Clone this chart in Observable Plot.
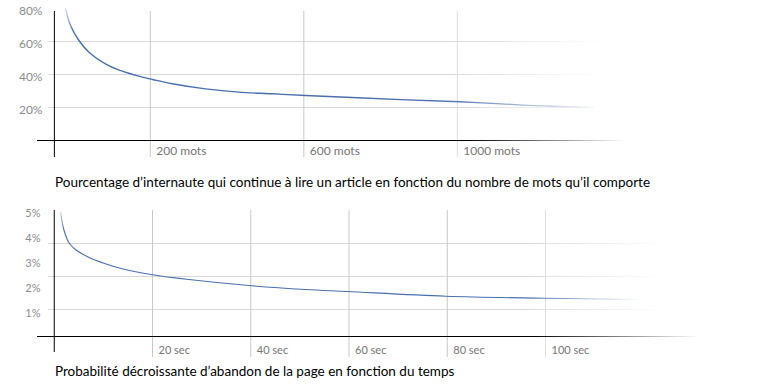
<!DOCTYPE html>
<html><head><meta charset="utf-8">
<script src="https://cdn.jsdelivr.net/npm/d3@7"></script>
<script src="https://cdn.jsdelivr.net/npm/@observablehq/plot@0.6"></script>
<style>
body{margin:0;background:#fff;font-family:Lato, "Open Sans", sans-serif}
#wrap{position:relative;width:780px;height:391px;overflow:hidden}
.chart{position:absolute;left:0}
.caption{position:absolute;left:55px;font-size:13.5px;color:#000;line-height:18px;height:18px;white-space:nowrap}
</style></head><body><div id="wrap"></div>
<script>
// ---- Chart 1: share of readers still reading vs. number of words ----
const words   = [-21, -8, 14, 40, 83, 127, 170, 206, 257, 344, 430, 518, 604, 852, 1006, 1113, 1243, 1355];
const readPct = [79.8, 69.7, 60.6, 53.5, 46.5, 42.0, 39.0, 37.0, 34.4, 31.3, 29.3, 28.3, 27.3, 24.8, 23.5, 22.2, 20.8, 20.2];
const wordTicks = [200, 600, 1000];
const wordUnit = "mots";
const readTicks = [20, 40, 60, 80];
const wordsOrigin = -50;
const caption1 = "Pourcentage d’internaute qui continue à lire un article en fonction du nombre de mots qu’il comporte";

// ---- Chart 2: probability of leaving the page vs. time ----
const secs       = [1.3, 1.9, 3, 4.3, 7, 10.4, 13.8, 20, 27.4, 39.6, 51.1, 59.6, 79.7, 100.1, 118.7];
const abandonPct = [4.95, 4.31, 3.75, 3.48, 3.17, 2.91, 2.71, 2.47, 2.28, 2.04, 1.88, 1.80, 1.61, 1.53, 1.48];
const secTicks = [20, 40, 60, 80, 100];
const secUnit = "sec";
const abandonTicks = [1, 2, 3, 4, 5];
const abandonGrid = [1.08, 2.4, 3.72];
const secsOrigin = 0;
const caption2 = "Probabilité décroissante d’abandon de la page en fonction du temps";

const wrap = document.getElementById("wrap");
const blue = "#4a6fb0";

function makeChart(cfg) {
  const data = cfg.xs.map((x, i) => ({x, y: cfg.ys[i]}));
  const id = cfg.id;
  const chart = Plot.plot({
    width: 780, height: cfg.height,
    marginTop: cfg.marginTop, marginBottom: cfg.marginBottom,
    marginLeft: 37, marginRight: cfg.marginRight,
    style: {fontFamily: "Lato, 'Open Sans', sans-serif", background: "#fff", overflow: "visible"},
    x: {domain: cfg.xDomain, axis: null},
    y: {domain: cfg.yDomain, axis: null},
    marks: [
      Plot.ruleY(cfg.gridY, {stroke: `url(#${id}-grid)`, insetLeft: 11}),
      Plot.ruleX(cfg.xTicks, {stroke: `url(#${id}-vgrid)`}),
      Plot.ruleX([cfg.origin], {stroke: "#000", insetBottom: cfg.axisInsetBottom}),
      Plot.ruleY([0], {stroke: `url(#${id}-axis)`}),
      Plot.line(data, {x: "x", y: "y", stroke: `url(#${id}-curve)`, strokeWidth: cfg.lineWidth, curve: "catmull-rom"}),
      Plot.text(cfg.xTicks, {x: d => d, frameAnchor: "bottom", textAnchor: "start", dx: 6, dy: cfg.xLabelDy,
        text: d => `${d} ${cfg.unit}`, fill: `url(#${id}-label)`, fontSize: cfg.fontSize}),
      Plot.text(cfg.yTicks, {y: d => d, frameAnchor: "left", textAnchor: "end", dx: cfg.yLabelDx, dy: cfg.yLabelDy,
        text: d => `${d}%`, fill: "#8c8c8c", fontSize: cfg.fontSize})
    ]
  });
  const sx = chart.scale("x");
  const defs = d3.select(chart).append("defs");
  function grad(name, stops) {
    const px = stops.map(s => sx.apply(s[0]));
    const x1 = px[0], x2 = px[px.length - 1];
    const g = defs.append("linearGradient").attr("id", `${id}-${name}`)
      .attr("gradientUnits", "userSpaceOnUse")
      .attr("x1", x1).attr("x2", x2).attr("y1", 0).attr("y2", 0);
    stops.forEach((s, i) => g.append("stop").attr("offset", (px[i] - x1) / (x2 - x1))
      .attr("stop-color", s[1]).attr("stop-opacity", s[2] ?? 1));
  }
  const f = cfg.fades;
  grad("curve", [[f.curveIn[0], blue, 0.15], [f.curveIn[1], blue, 1], [f.curveOut[0], blue, 1], [f.curveOut[1], blue, 0]]);
  grad("grid", [[f.grid[0], "#d9d9d9", 1], [f.grid[1], "#d9d9d9", 0]]);
  grad("vgrid", [[f.vgrid[0], "#c8c8c8", 1], [f.vgrid[1], "#dedede", 1]]);
  grad("axis", [[f.axis[0], "#000", 1], [f.axis[1], "#000", 0]]);
  grad("label", [[f.label[0], "#777", 1], [f.label[1], "#cdcdcd", 1]]);
  chart.setAttribute("class", "chart");
  chart.style.top = cfg.top + "px";
  return chart;
}

wrap.appendChild(makeChart({
  id: "c1", top: 0, height: 165, marginTop: 11, marginBottom: 8, marginRight: 153,
  xs: words, ys: readPct, xDomain: [-94, 1443.4], yDomain: [-10.3, 78.18],
  gridY: readTicks.slice(0, 3), yTicks: readTicks, xTicks: wordTicks, unit: wordUnit, origin: wordsOrigin,
  axisInsetBottom: 0, lineWidth: 1.4, fontSize: 12, xLabelDy: -3, yLabelDx: 5, yLabelDy: 3,
  fades: {curveIn: [-23, -3], curveOut: [956, 1373], grid: [982, 1373], vgrid: [643, 1006], axis: [1026, 1443], label: [960, 1150]}
}));

const cap1 = document.createElement("div");
cap1.className = "caption"; cap1.style.top = "173px"; cap1.textContent = caption1;
wrap.appendChild(cap1);

wrap.appendChild(makeChart({
  id: "c2", top: 195, height: 170, marginTop: 15, marginBottom: 8, marginRight: 80,
  xs: secs, ys: abandonPct, xDomain: [-3.41, 131.55], yDomain: [-0.84, 5.04],
  gridY: abandonGrid, yTicks: abandonTicks, xTicks: secTicks, unit: secUnit, origin: secsOrigin,
  axisInsetBottom: 5, lineWidth: 1.1, fontSize: 11, xLabelDy: -3.5, yLabelDx: 3, yLabelDy: 1.5,
  fades: {curveIn: [1.07, 1.9], curveOut: [96, 119.3], grid: [94.9, 124.4], vgrid: [80.7, 100], axis: [97.6, 131.5], label: [97, 110]}
}));

const cap2 = document.createElement("div");
cap2.className = "caption"; cap2.style.top = "362px"; cap2.textContent = caption2;
wrap.appendChild(cap2);
</script></body></html>
